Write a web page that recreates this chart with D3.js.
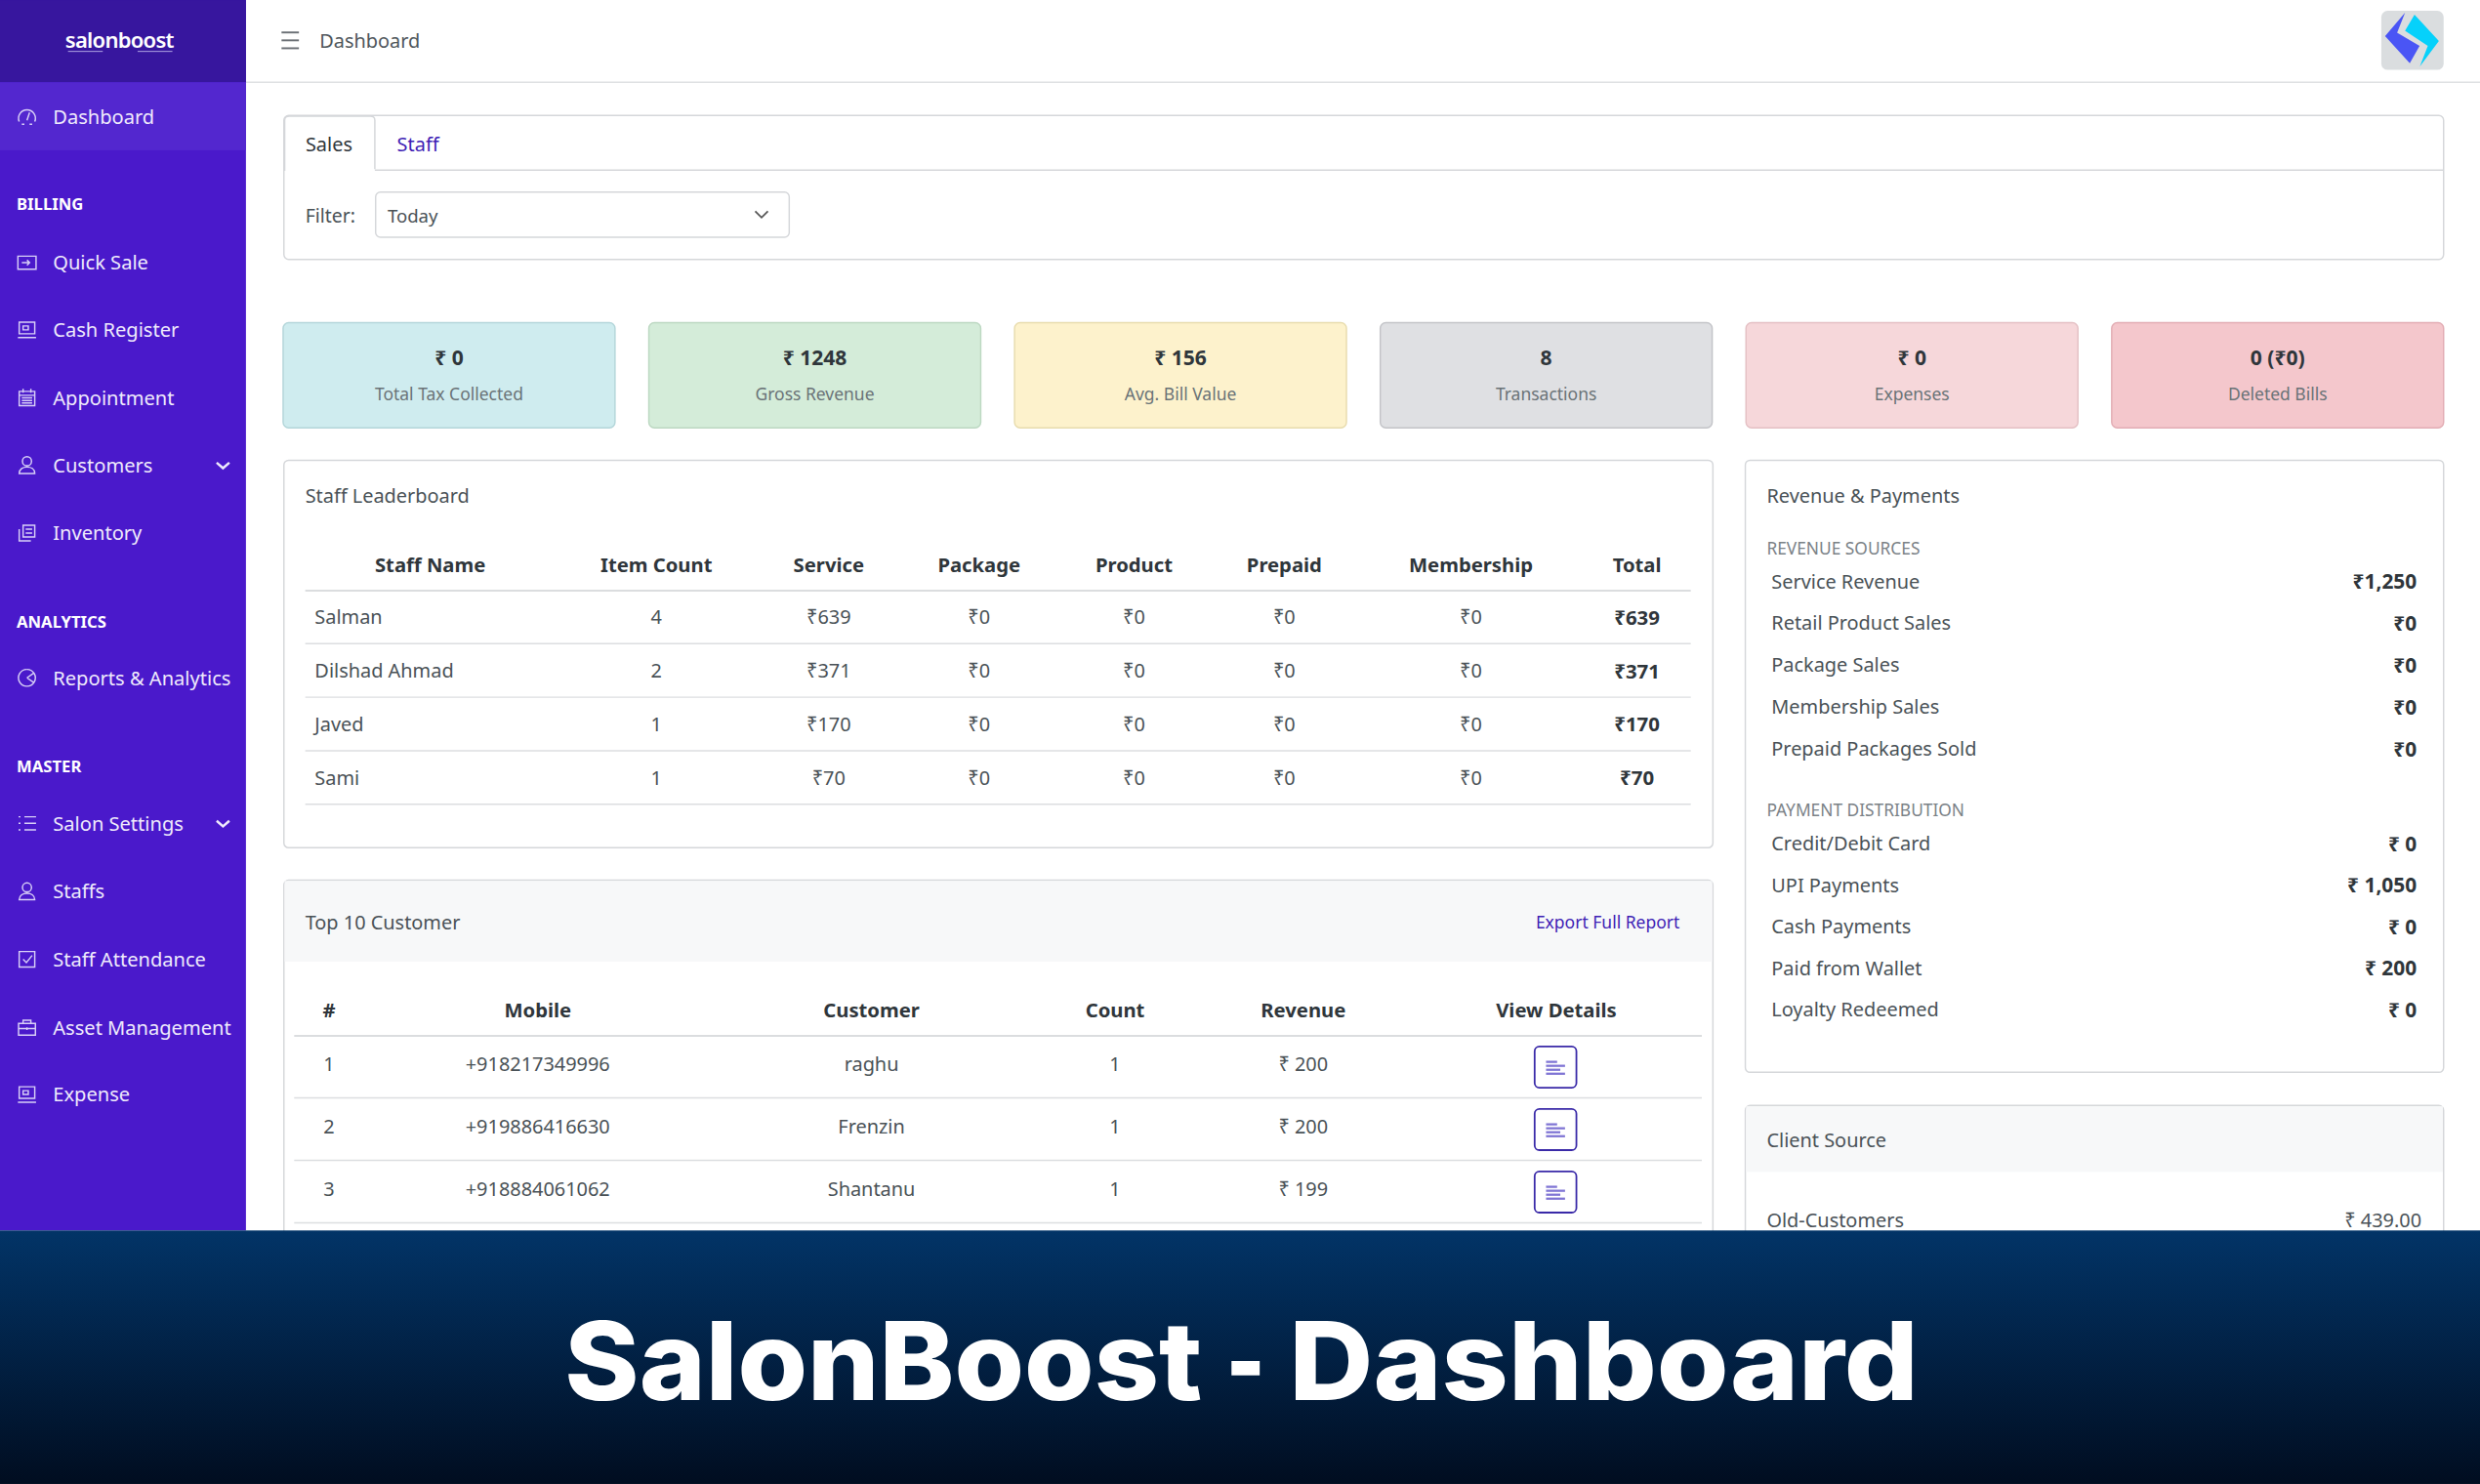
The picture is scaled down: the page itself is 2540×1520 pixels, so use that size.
<!DOCTYPE html>
<html><head><meta charset="utf-8">
<script src="https://cdn.jsdelivr.net/npm/d3@7/dist/d3.min.js"></script>
<style>
html,body{margin:0;padding:0;background:#fff;overflow:hidden}
svg{display:block}
text{font-family:"Noto Sans","Open Sans",sans-serif;dominant-baseline:central}
</style></head><body>
<script>
// ---------- data ----------
const navEntries = [
  {label:"Dashboard",icon:"gauge"},{label:"BILLING",head:1},{label:"Quick Sale",icon:"login"},
  {label:"Cash Register",icon:"register"},{label:"Appointment",icon:"calendar"},
  {label:"Customers",icon:"user",more:1},{label:"Inventory",icon:"stack"},
  {label:"ANALYTICS",head:1},{label:"Reports & Analytics",icon:"pie"},
  {label:"MASTER",head:1},{label:"Salon Settings",icon:"list",more:1},{label:"Staffs",icon:"user"},
  {label:"Staff Attendance",icon:"check"},{label:"Asset Management",icon:"case"},{label:"Expense",icon:"register"}
];
const navY = [73.5,129,166,208.5,251.5,294,337,393,428.5,484,520.5,563.5,606.5,649.5,692];
const kpiValues = ["₹ 0","₹ 1248","₹ 156","8","₹ 0","0 (₹0)"];
const kpiLabels = ["Total Tax Collected","Gross Revenue","Avg. Bill Value","Transactions","Expenses","Deleted Bills"];
const kpiFills = ["#cfecef","#d4ecd9","#fdf2cc","#dfe0e3","#f6d7da","#f4c7cc"];
const kpiStrokes = ["#b4d6da","#bcd8c2","#e8dcae","#c3c4c8","#e4c0c4","#e2adb4"];
const staffHeaders = ["Staff Name","Item Count","Service","Package","Product","Prepaid","Membership","Total"];
const staffNames = ["Salman","Dilshad Ahmad","Javed","Sami"];
const staffItems = [4,2,1,1];
const staffService = [639,371,170,70];
const staffPackage = [0,0,0,0];
const staffProduct = [0,0,0,0];
const staffPrepaid = [0,0,0,0];
const staffMembership = [0,0,0,0];
const staffTotal = [639,371,170,70];
const custHeaders = ["#","Mobile","Customer","Count","Revenue","View Details"];
const custRank = [1,2,3];
const custMobile = ["+918217349996","+919886416630","+918884061062"];
const custName = ["raghu","Frenzin","Shantanu"];
const custCount = [1,1,1];
const custRevenue = [200,200,199];
const revLabels = ["Service Revenue","Retail Product Sales","Package Sales","Membership Sales","Prepaid Packages Sold"];
const revValues = [1250,0,0,0,0];
const payLabels = ["Credit/Debit Card","UPI Payments","Cash Payments","Paid from Wallet","Loyalty Redeemed"];
const payValues = [0,1050,0,200,0];
const clientLabels = ["Old-Customers"];
const clientValues = [439];
const titleWords = ["SalonBoost","-","Dashboard"];

// ---------- layout ----------
const W = 1568, H = 938.3;
const svg = d3.select("body").append("svg").attr("width",2540).attr("height",1520).attr("viewBox",`0 0 ${W} ${H}`);
const defs = svg.append("defs");
const grad = defs.append("linearGradient").attr("id","banner").attr("x1",0).attr("x2",0).attr("y1",0).attr("y2",1);
grad.append("stop").attr("offset",0).attr("stop-color","#023467");
grad.append("stop").attr("offset",1).attr("stop-color","#010d20");

const TXT="#4a5257", DARK="#2f363b", LINE="#dcdee0", BORDER="#d5d7da", BLUE="#3f1fb5", FS=12.3;
function rect(g,x,y,w,h,fill,stroke,r){return g.append("rect").attr("x",x).attr("y",y).attr("width",w).attr("height",h).attr("fill",fill||"none").attr("stroke",stroke||"none").attr("stroke-width",stroke?0.9:0).attr("rx",r||0);}
function text(g,s,x,y,o={}){return g.append("text").attr("x",x).attr("y",y).attr("text-anchor",o.a||"start").attr("font-size",o.s||FS).attr("font-weight",o.w||400).attr("fill",o.c||TXT).text(s);}
function hline(g,x1,x2,y,c){g.append("line").attr("x1",x1).attr("x2",x2).attr("y1",y).attr("y2",y).attr("stroke",c||LINE).attr("stroke-width",0.9);}

rect(svg,0,0,W,H,"#fff");

// header
const head = svg.append("g");
hline(head,155,W,52,"#dfe1e3");
["M178 20.5H189","M178 25.5H189","M178 30.5H189"].forEach(d=>head.append("path").attr("d",d).attr("stroke","#6b7075").attr("stroke-width",1.2));
text(head,"Dashboard",202,25.5,{s:12.3,c:"#50575c"});
rect(head,1505.6,6.8,39.4,37.4,"#dadddf",null,4);
head.append("path").attr("d","M1520.6 8L1508 22.8L1523.6 40L1529.8 29L1515.6 20.6Z").attr("fill","#4a55f5");
head.append("path").attr("d","M1526.6 9.3L1542 25.9L1530 42L1535 29L1520.6 19.5Z").attr("fill","#06d1fb");

// sidebar
const side = svg.append("g");
rect(side,0,0,155.5,778,"#4a19cb");
rect(side,0,0,155.5,52,"#37169e");
rect(side,0,52,155.5,43,"#5327cf");
text(side,"salonboost",75.5,24.5,{s:13.6,w:600,c:"#fff",a:"middle"}).attr("letter-spacing",-0.45);
side.append("path").attr("d","M43 32.5H65M87 32.5H109").attr("stroke","#cfc5f2").attr("stroke-width",0.5);
const icons = {
  gauge:"M2 12A6.5 6.5 0 1 1 14 12M4 14H6M10 14H12M8 11L10 5",
  login:"M1 3H15V13H1ZM4 8H10M8 6L10 8L8 10",
  register:"M2 2H14V11H2ZM1 14H15M5 5H9V8H5Z",
  calendar:"M2 3H14V14H2ZM2 6H14M5 1V4M11 1V4M4 8H12M4 10H12M4 12H12",
  user:"M8 1.5A3.5 3.5 0 0 1 8 8.5A3.5 3.5 0 0 1 8 1.5M2 14.5C2 11 5 9.5 8 9.5C11 9.5 14 11 14 14.5Z",
  stack:"M5 2H14V11H5ZM2 5V14H11M7 5H12M7 8H12",
  pie:"M8 1.5A6.5 6.5 0 1 1 7.9 1.5M8 8L13 4.5M8 8L13 11.5",
  list:"M6 3H15M6 8H15M6 13H15M1.5 3H3M1.5 8H3M1.5 13H3",
  check:"M2 2H14V14H2ZM5 8L7.5 10.5L12 5",
  case:"M1.5 5H14.5V14H1.5ZM5 5V2.5H11V5M1.5 9H14.5M8 8V10"
};
const nav = side.selectAll("g.nav").data(navEntries).enter().append("g").attr("class","nav")
  .attr("transform",(d,i)=>`translate(0,${navY[i]})`);
nav.filter(d=>d.head).append("text").attr("x",10.5).attr("font-size",10.3).attr("font-weight",700).attr("fill","#fff").text(d=>d.label);
nav.filter(d=>!d.head).append("text").attr("x",33.5).attr("font-size",12.4).attr("fill","#efeafc").text(d=>d.label);
nav.filter(d=>d.icon).append("path").attr("d",d=>icons[d.icon]).attr("fill","none").attr("stroke","#d8cff7").attr("stroke-width",1.1)
  .attr("transform","translate(10.5,-6.5) scale(0.82)");
nav.filter(d=>d.more).append("path").attr("d","M137 -1.5L141 2L145 -1.5").attr("fill","none").attr("stroke","#efeafc").attr("stroke-width",1.5);

// filter card
const fc = svg.append("g");
rect(fc,179.5,73,1365.5,91,"#fff",BORDER,3);
hline(fc,237,1545,107.5,BORDER);
fc.append("path").attr("d","M180 108V76Q180 73.5 183 73.5H234Q237 73.5 237 76V107").attr("fill","#fff").attr("stroke",BORDER).attr("stroke-width",0.9);
text(fc,"Sales",208,91,{a:"middle",c:"#2f363b"});
text(fc,"Staff",251,91,{c:BLUE});
text(fc,"Filter:",193,136,{s:12});
rect(fc,237.5,121.5,261.5,28.5,"#fff",BORDER,3);
text(fc,"Today",245,136,{s:11.5});
fc.append("path").attr("d","M477.5 133.5L481.5 137.5L485.5 133.5").attr("fill","none").attr("stroke","#555").attr("stroke-width",1.1);

// KPI cards
const kpiX = d3.scaleBand().domain(d3.range(6)).range([179,1545]).paddingInner(0.0925).paddingOuter(0);
const kpi = svg.selectAll("g.kpi").data(kpiValues).enter().append("g").attr("class","kpi").attr("transform",(d,i)=>`translate(${kpiX(i)},204)`);
kpi.append("rect").attr("width",kpiX.bandwidth()).attr("height",66.5).attr("rx",3.5).attr("fill",(d,i)=>kpiFills[i]).attr("stroke",(d,i)=>kpiStrokes[i]).attr("stroke-width",0.9);
kpi.append("text").attr("x",kpiX.bandwidth()/2).attr("y",21.5).attr("text-anchor","middle").attr("font-size",13).attr("font-weight",700).attr("fill",DARK).text(d=>d);
kpi.append("text").attr("x",kpiX.bandwidth()/2).attr("y",44.5).attr("text-anchor","middle").attr("font-size",10.8).attr("fill","#6a7377").text((d,i)=>kpiLabels[i]);

// generic table
function table(g,cols,headers,rows,rowY,headY,headLine,x1,x2,lineOffset){
  g.selectAll("text.th").data(headers).enter().append("text").attr("class","th").attr("x",(d,i)=>cols[i]).attr("y",headY).attr("text-anchor","middle")
    .attr("font-size",FS+0.2).attr("font-weight",700).attr("fill",DARK).text(d=>d);
  hline(g,x1,x2,headLine,"#cfd2d5");
  rows.forEach((r,ri)=>{
    const y=rowY(ri);
    r.forEach((c,ci)=>{
      const o=(c!==null&&typeof c==="object")?c:{t:c};
      text(g,o.t,o.x!==undefined?o.x:cols[ci],y,{a:o.x!==undefined?"start":"middle",w:o.w||400,c:o.w?DARK:TXT,s:o.w?FS+0.3:FS});
    });
    hline(g,x1,x2,y+lineOffset);
  });
}
const fmtR = v=>"₹"+v, fmtRS = v=>"₹ "+d3.format(",")(v);

// staff leaderboard
const sl = svg.append("g");
rect(sl,179.5,291,903.5,245,"#fff",BORDER,3);
text(sl,"Staff Leaderboard",193,313);
const staffCols = [272,415,524,619,717,812,930,1035];
const staffRowY = d3.scaleLinear().domain([0,3]).range([390,491.5]);
const staffRows = staffNames.map((n,i)=>[{t:n,x:199},staffItems[i],fmtR(staffService[i]),fmtR(staffPackage[i]),fmtR(staffProduct[i]),fmtR(staffPrepaid[i]),fmtR(staffMembership[i]),{t:fmtR(staffTotal[i]),w:700}]);
table(sl,staffCols,staffHeaders,staffRows,staffRowY,357,373.5,193,1069,17);

// customers
const cc = svg.append("g");
rect(cc,179.5,556.5,903.5,300,"#fff",BORDER,3);
rect(cc,180,557,902.5,51,"#f7f8f9");
text(cc,"Top 10 Customer",193,583);
text(cc,"Export Full Report",1062,582.5,{s:10.8,a:"end",c:BLUE});
const custCols = [208,340,551,705,824,984];
const custRowY = d3.scaleLinear().domain([0,2]).range([672.5,751.5]);
const custRows = custRank.map((n,i)=>[n,custMobile[i],custName[i],custCount[i],fmtRS(custRevenue[i])]);
table(cc,custCols,custHeaders,custRows,custRowY,638,655,186,1076,21.7);
custRank.forEach((n,i)=>{
  const y=custRowY(i)+2.2, x=983.5;
  rect(cc,x-13.2,y-13,26.4,26,"#fff","#3a2aa8",3).attr("stroke-width",1.1);
  [[-6,-4,7],[-6,-1.5,12],[-6,1,9],[-6,3.5,12]].forEach(([a,b,c])=>{
    cc.append("rect").attr("x",x+a).attr("y",y+b).attr("width",c).attr("height",1.4).attr("fill","#7f74d4");});
});

// revenue and payments
const rp = svg.append("g");
rect(rp,1103.5,291,441.5,387,"#fff",BORDER,3);
text(rp,"Revenue & Payments",1117,313);
text(rp,"REVENUE SOURCES",1117,346.5,{s:10.7,c:"#7b8287"});
text(rp,"PAYMENT DISTRIBUTION",1117,511.5,{s:10.7,c:"#7b8287"});
const revY = d3.scaleLinear().domain([0,4]).range([367.3,473.3]);
const payY = d3.scaleLinear().domain([0,4]).range([533.3,638.3]);
revLabels.forEach((l,i)=>{text(rp,l,1120,revY(i));text(rp,"₹"+d3.format(",")(revValues[i]),1528,revY(i),{a:"end",s:12.9,w:700,c:DARK});});
payLabels.forEach((l,i)=>{text(rp,l,1120,payY(i));text(rp,fmtRS(payValues[i]),1528,payY(i),{a:"end",s:12.9,w:700,c:DARK});});

// client source
const cs = svg.append("g");
rect(cs,1103.5,699,441.5,150,"#fff",BORDER,3);
rect(cs,1104,699.5,440.5,41.5,"#f7f8f9");
text(cs,"Client Source",1117,721);
clientLabels.forEach((l,i)=>{text(cs,l,1117,771.5);text(cs,"₹ "+d3.format(".2f")(clientValues[i]),1531,771.5,{a:"end"});});

// banner
const ban = svg.append("g");
rect(ban,0,778,W,H-778,"url(#banner)");
const titleX = [357,775,815], titleLen = [403,25,398];
ban.selectAll("text.title").data(titleWords).enter().append("text").attr("class","title")
  .attr("x",(d,i)=>titleX[i]).attr("y",860).attr("font-size",69).attr("font-weight",800).attr("fill","#fff")
  .style("font-family","Inter,'Liberation Sans',sans-serif")
  .attr("textLength",(d,i)=>titleLen[i]).attr("lengthAdjust","spacingAndGlyphs").text(d=>d);
</script>
</body></html>
